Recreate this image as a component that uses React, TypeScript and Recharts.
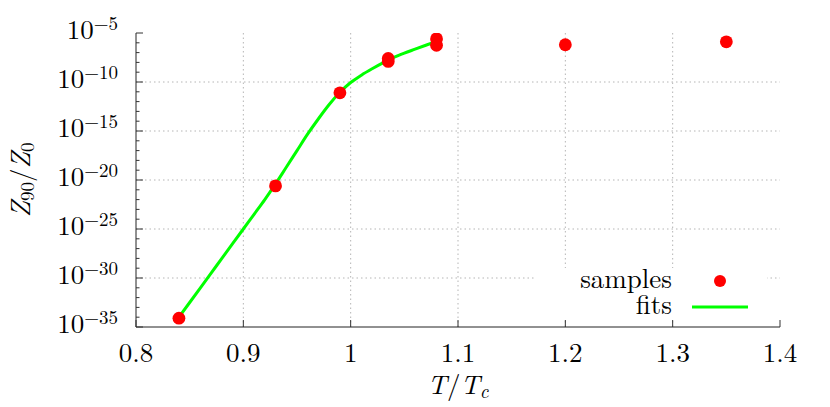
import { ComposedChart, Line, Scatter, XAxis, YAxis, ReferenceLine, Legend } from "recharts"

// measured samples: T/Tc and log10(Z90/Z0)
const sampleT = [0.84, 0.93, 0.99, 1.035, 1.035, 1.08, 1.08, 1.2, 1.35]
const sampleExp = [-34.1, -20.6, -11.1, -7.6, -7.9, -5.6, -6.25, -6.2, -5.9]

// fitted curve, log10(Z90/Z0)
const fitT = [
  0.84, 0.85, 0.86, 0.87, 0.88, 0.89, 0.9, 0.91, 0.92, 0.93, 0.94, 0.95, 0.96,
  0.97, 0.98, 0.99, 1.0, 1.01, 1.02, 1.03, 1.04, 1.05, 1.06, 1.07, 1.08,
]
const fitExp = [
  -34.0, -32.5, -31.0, -29.5, -28.0, -26.5, -25.0, -23.5, -22.0, -20.4, -18.7,
  -17.0, -15.3, -13.75, -12.3, -11.05, -10.05, -9.3, -8.65, -8.05, -7.5, -7.05,
  -6.65, -6.25, -5.85,
]

const xTicks = [0.8, 0.9, 1, 1.1, 1.2, 1.3, 1.4]
const xGrid = [0.9, 1, 1.1, 1.2, 1.3]
const yGrid = [-30, -25, -20, -15, -10]
const yTicks = Array.from({ length: 31 }, (_, i) => -35 + i)
const legendOrder = ["samples", "fits"]

const samples = sampleT.map((t, i) => ({ t, e: sampleExp[i] }))
const fits = fitT.map((t, i) => ({ t, e: fitExp[i] }))

const FONT = "'Latin Modern Roman'"
const TICK = "#333"
const BIG = 27
const SMALL = 19

function LeftTick({ x, y, payload }: any) {
  const v = payload.value
  const major = v % 5 === 0
  return (
    <g>
      <line x1={x} x2={x + (major ? 7 : 3.5)} y1={y} y2={y} stroke={TICK} />
      {major && (
        <text x={x - 18} y={y + 6} textAnchor="end" fontSize={BIG} fontFamily={FONT} fill="#000">
          10<tspan dy={-9} fontSize={SMALL}>{"\u2212" + Math.abs(v)}</tspan>
        </text>
      )}
    </g>
  )
}

function RightTick({ x, y, payload }: any) {
  const major = payload.value % 5 === 0
  return <line x1={x} x2={x - (major ? 7 : 3.5)} y1={y} y2={y} stroke={TICK} />
}

function BottomTick({ x, y, payload }: any) {
  return (
    <g>
      <line x1={x} x2={x} y1={y} y2={y - 7} stroke={TICK} />
      <text x={x} y={y + 35} textAnchor="middle" fontSize={BIG} fontFamily={FONT} fill="#000">
        {String(payload.value)}
      </text>
    </g>
  )
}

function TopTick({ x, y }: any) {
  return <line x1={x} x2={x} y1={y} y2={y + 7} stroke={TICK} />
}

function YLabel({ viewBox }: any) {
  const cx = viewBox.x + 30
  const cy = viewBox.y + viewBox.height / 2
  return (
    <text x={cx} y={cy} transform={`rotate(-90 ${cx} ${cy})`} textAnchor="middle" fontSize={BIG} fontFamily={FONT} fill="#000">
      <tspan fontStyle="italic">Z</tspan>
      <tspan fontSize={SMALL} dy={4}>90</tspan>
      <tspan dy={-4}>/</tspan>
      <tspan fontStyle="italic">Z</tspan>
      <tspan fontSize={SMALL} dy={4}>0</tspan>
    </text>
  )
}

function XLabel({ viewBox }: any) {
  const cx = viewBox.x + viewBox.width / 2
  return (
    <text x={cx} y={viewBox.y + 67} textAnchor="middle" fontSize={BIG} fontFamily={FONT} fill="#000">
      <tspan fontStyle="italic">T</tspan>
      <tspan>/</tspan>
      <tspan fontStyle="italic">T</tspan>
      <tspan fontStyle="italic" fontSize={SMALL} dy={4}>c</tspan>
    </text>
  )
}

function LegendBox({ payload }: any) {
  const items = [...(payload || [])].sort(
    (a: any, b: any) => legendOrder.indexOf(a.value) - legendOrder.indexOf(b.value)
  )
  return (
    <svg width={232} height={52} style={{ display: "block", overflow: "visible" }}>
      {items.map((it: any, i: number) => {
        const cy = 13 + i * 26
        return (
          <g key={it.value}>
            <text x={137} y={cy + 7} textAnchor="end" fontSize={BIG} fontFamily={FONT} fill="#000">
              {it.value}
            </text>
            {it.type === "line" ? (
              <line x1={157} x2={213} y1={cy} y2={cy} stroke={it.color} strokeWidth={3} />
            ) : (
              <circle cx={185} cy={cy} r={6} fill={it.color} />
            )}
          </g>
        )
      })}
    </svg>
  )
}

const Dot = (props: any) => <circle cx={props.cx} cy={props.cy} r={6.4} fill="#ff0000" />

export default function App() {
  return (
    <div style={{ position: "absolute", left: 0, top: 0, background: "#fff" }}>
      <ComposedChart width={830} height={407} margin={{ top: 33, right: 50, bottom: 0, left: 0 }}>
        <XAxis
          xAxisId={0}
          dataKey="t"
          type="number"
          domain={[0.8, 1.4]}
          ticks={xTicks}
          interval={0}
          height={80}
          tickSize={0}
          tickMargin={0}
          tick={BottomTick}
          axisLine={{ stroke: "#222" }}
          allowDataOverflow
          label={{ content: XLabel }}
        />
        <XAxis
          xAxisId="top"
          orientation="top"
          dataKey="t"
          type="number"
          domain={[0.8, 1.4]}
          ticks={xTicks}
          interval={0}
          height={0}
          tickSize={0}
          tickMargin={0}
          tick={TopTick}
          axisLine={{ stroke: "#222" }}
          allowDataOverflow
        />
        <YAxis
          yAxisId={0}
          dataKey="e"
          type="number"
          domain={[-35, -5]}
          ticks={yTicks}
          interval={0}
          width={136}
          tickSize={0}
          tickMargin={0}
          tick={LeftTick}
          axisLine={{ stroke: "#222" }}
          allowDataOverflow
          label={{ content: YLabel }}
        />
        <YAxis
          yAxisId="right"
          orientation="right"
          dataKey="e"
          type="number"
          domain={[-35, -5]}
          ticks={yTicks}
          interval={0}
          width={0}
          tickSize={0}
          tickMargin={0}
          tick={RightTick}
          axisLine={{ stroke: "#222" }}
          allowDataOverflow
        />
        {xGrid.map((v) => (
          <ReferenceLine key={"x" + v} x={v} stroke="#b5b5b5" strokeDasharray="1.5 3" />
        ))}
        {yGrid.map((v) => (
          <ReferenceLine key={"y" + v} y={v} stroke="#b5b5b5" strokeDasharray="1.5 3" />
        ))}
        <Legend
          layout="horizontal"
          verticalAlign="middle"
          align="center"
          content={LegendBox}
          wrapperStyle={{ left: 535, top: 268, width: 232, height: 52, background: "#fff" }}
        />
        <Scatter
          name="samples"
          data={samples}
          dataKey="e"
          fill="#ff0000"
          legendType="circle"
          shape={Dot}
          isAnimationActive={false}
        />
        <Line
          name="fits"
          data={fits}
          dataKey="e"
          type="monotone"
          stroke="#00ff00"
          strokeWidth={3}
          dot={false}
          activeDot={false}
          legendType="line"
          isAnimationActive={false}
        />
      </ComposedChart>
    </div>
  )
}
